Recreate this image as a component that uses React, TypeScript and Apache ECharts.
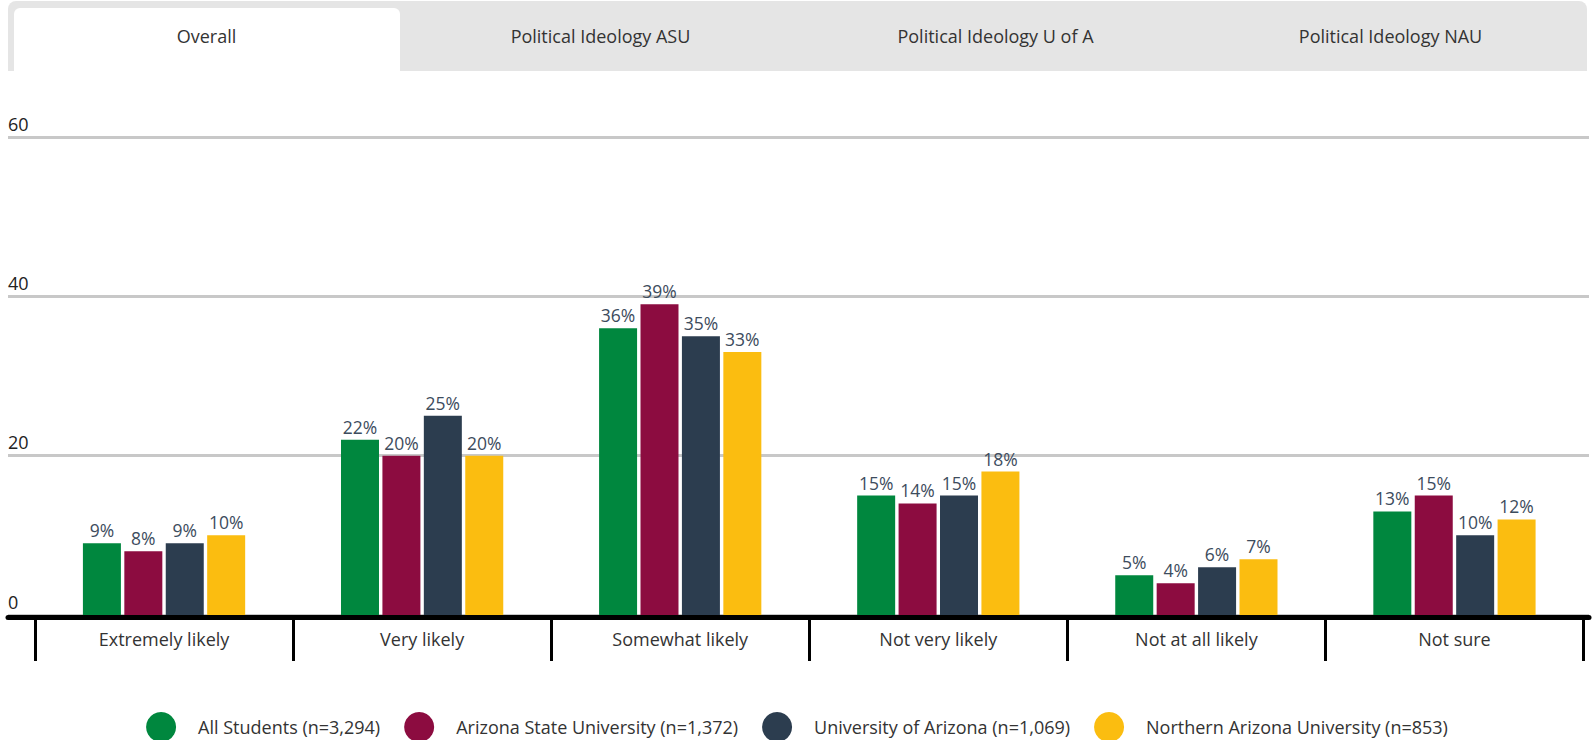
import React, { useEffect, useRef } from "react";
import * as echarts from "echarts";

const categories = [
  "Extremely likely",
  "Very likely",
  "Somewhat likely",
  "Not very likely",
  "Not at all likely",
  "Not sure",
];
const seriesNames = [
  "All Students (n=3,294)",
  "Arizona State University (n=1,372)",
  "University of Arizona (n=1,069)",
  "Northern Arizona University (n=853)",
];
const allStudents = [9, 22, 36, 15, 5, 13];
const asu = [8, 20, 39, 14, 4, 15];
const uofa = [9, 25, 35, 15, 6, 10];
const nau = [10, 20, 33, 18, 7, 12];
const yTicks = [0, 20, 40, 60];
const tabs = [
  "Overall",
  "Political Ideology ASU",
  "Political Ideology U of A",
  "Political Ideology NAU",
];
const colors = ["#00873e", "#8c0c40", "#2c3d4f", "#fbbd10"];

const FONT = "'Open Sans', sans-serif";

export default function App() {
  const ref = useRef<HTMLDivElement>(null);
  useEffect(() => {
    if (!ref.current) return;
    const chart = echarts.init(ref.current, undefined, { renderer: "svg" });
    const values = [allStudents, asu, uofa, nau];
    const tabW = 395;
    const tabGraphics: any[] = [
      {
        type: "rect",
        shape: { x: 8, y: 1, width: 1579, height: 70, r: [8, 8, 0, 0] },
        style: { fill: "#e5e5e5" },
        silent: true,
      },
      {
        type: "rect",
        shape: { x: 14, y: 8, width: 386, height: 63, r: [6, 6, 0, 0] },
        style: { fill: "#ffffff" },
        silent: true,
      },
      ...tabs.map((t, i) => ({
        type: "text",
        x: 8 + tabW * i + tabW / 2 + (i === 0 ? 1 : 0),
        y: 36,
        style: {
          text: t,
          textAlign: "center",
          textVerticalAlign: "middle",
          fontSize: 18,
          fontFamily: FONT,
          fill: "#333333",
        },
        silent: true,
      })),
    ];
    chart.setOption({
      animation: false,
      textStyle: { fontFamily: FONT },
      color: colors,
      graphic: tabGraphics,
      grid: [
        { left: 35, right: 10.5, top: 137, bottom: 125 },
        { left: 8, right: 5, top: 137, bottom: 125 },
      ],
      legend: {
        data: seriesNames,
        left: "center",
        top: 707,
        icon: "circle",
        itemWidth: 30,
        itemHeight: 30,
        itemGap: 24,
        textStyle: {
          fontSize: 18,
          color: "#333333",
          fontFamily: FONT,
          padding: [0, 0, 0, 17],
        },
      },
      xAxis: [
        {
          type: "category",
          gridIndex: 0,
          data: categories,
          axisLine: { show: false },
          axisTick: { show: true, length: 46, lineStyle: { color: "#000", width: 3 } },
          axisLabel: { margin: 15, fontSize: 18, color: "#333333", fontFamily: FONT },
          z: 5,
        },
        {
          type: "value",
          gridIndex: 1,
          min: 0,
          max: 1,
          offset: 2.5,
          axisLine: { show: true, onZero: false, lineStyle: { color: "#000", width: 5 } },
          axisTick: { show: false },
          axisLabel: { show: false },
          splitLine: { show: false },
          z: 4,
        },
      ],
      yAxis: [
        { type: "value", gridIndex: 0, min: 0, max: 60, interval: 20, show: false },
        {
          type: "value",
          gridIndex: 1,
          min: yTicks[0],
          max: yTicks[yTicks.length - 1],
          interval: 20,
          axisLine: { show: false },
          axisTick: { show: false },
          splitLine: { show: true, lineStyle: { color: "#c8c8c8", width: 3 } },
          axisLabel: {
            inside: true,
            margin: 0,
            verticalAlign: "bottom",
            lineHeight: 27,
            fontSize: 18,
            color: "#222222",
            fontFamily: FONT,
          },
        },
      ],
      series: seriesNames.map((name, i) => ({
        name,
        type: "bar",
        xAxisIndex: 0,
        yAxisIndex: 0,
        data: values[i],
        barWidth: 38,
        barGap: "9%",
        itemStyle: { color: colors[i] },
        label: {
          show: true,
          position: "top",
          distance: 4,
          formatter: "{c}%",
          fontSize: 17.5,
          color: "#3d4c5d",
          fontFamily: FONT,
        },
        z: 3,
      })),
    });
    return () => chart.dispose();
  }, []);
  return (
    <div
      ref={ref}
      style={{ position: "absolute", left: 0, top: 0, width: 1594, height: 740 }}
    />
  );
}
